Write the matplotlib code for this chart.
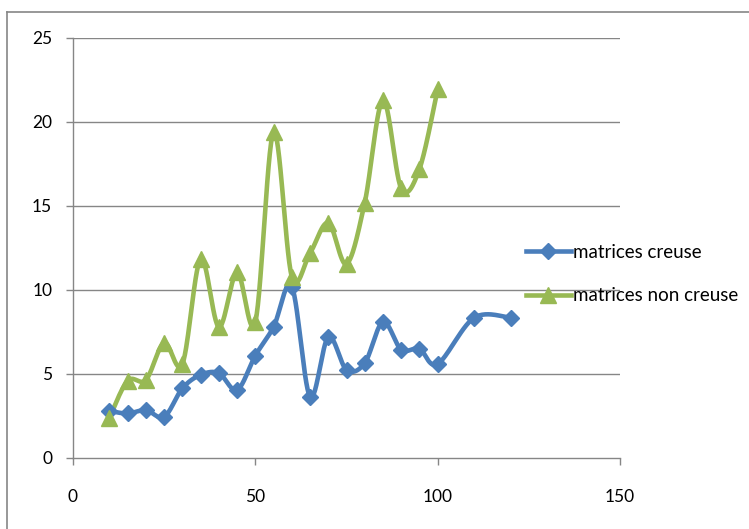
import numpy as np
import matplotlib
matplotlib.use("Agg")
import matplotlib.pyplot as plt
from matplotlib.lines import Line2D

# Matrix size vs. time for sparse and dense matrices
x_creuse = [10, 15, 20, 25, 30, 35, 40, 45, 50, 55, 60, 65, 70, 75, 80, 85, 90, 95, 100, 110, 120]
y_creuse = [2.8, 2.65, 2.85, 2.45, 4.15, 4.95, 5.05, 4.05, 6.1, 7.8, 10.2, 3.65, 7.2, 5.25, 5.65, 8.1, 6.45, 6.5, 5.6, 8.35, 8.35]

x_non_creuse = [10, 15, 20, 25, 30, 35, 40, 45, 50, 55, 60, 65, 70, 75, 80, 85, 90, 95, 100]
y_non_creuse = [2.4, 4.6, 4.65, 6.85, 5.6, 11.85, 7.8, 11.05, 8.1, 19.4, 10.8, 12.2, 14.0, 11.55, 15.2, 21.3, 16.05, 17.2, 21.95]

labels = ["matrices creuse", "matrices non creuse"]
x_ticks = [0, 50, 100, 150]
y_ticks = [0, 5, 10, 15, 20, 25]

BLUE = "#4A7EBB"
GREEN = "#98B954"
GRID = "#868686"


def smooth(xs, ys, n=30):
    """Cardinal (Catmull-Rom) Bezier smoothing through every point."""
    p = np.column_stack([xs, ys]).astype(float)
    m = len(p)
    out = [p[0]]
    t = np.linspace(0, 1, n)[1:, None]
    for i in range(m - 1):
        p0 = p[i - 1] if i > 0 else p[i]
        p1 = p[i]
        p2 = p[i + 1]
        p3 = p[i + 2] if i + 2 < m else p[i + 1]
        c1 = p1 + (p2 - p0) / 6.0
        c2 = p2 - (p3 - p1) / 6.0
        seg = ((1 - t) ** 3) * p1 + 3 * ((1 - t) ** 2) * t * c1 + 3 * (1 - t) * t ** 2 * c2 + t ** 3 * p2
        out.extend(seg)
    out = np.array(out)
    return out[:, 0], out[:, 1]


plt.rcParams["font.family"] = ["Lato", "DejaVu Sans"]

fig = plt.figure(figsize=(7.49, 5.29), dpi=100)
ax = fig.add_axes([73 / 749, 1 - 458 / 529, (620 - 73) / 749, (458 - 38) / 529])

ax.set_xlim(0, 150)
ax.set_ylim(0, 25)
ax.set_xticks(x_ticks)
ax.set_yticks(y_ticks)

for yv in y_ticks[1:]:
    ax.axhline(yv, color=GRID, lw=1.0, zorder=1)

LW = 3.3
sx, sy = smooth(x_creuse, y_creuse)
ax.plot(sx, sy, color=BLUE, lw=LW, zorder=3, solid_capstyle="round")
ax.plot(x_creuse, y_creuse, ls="none", marker="D", ms=8, color=BLUE, zorder=4)

gx, gy = smooth(x_non_creuse, y_non_creuse)
ax.plot(gx, gy, color=GREEN, lw=LW, zorder=3, solid_capstyle="round")
ax.plot(x_non_creuse, y_non_creuse, ls="none", marker="^", ms=11, color=GREEN, zorder=4)

for side in ("top", "right"):
    ax.spines[side].set_visible(False)
for side in ("left", "bottom"):
    ax.spines[side].set_color(GRID)
    ax.spines[side].set_linewidth(1.0)

ax.tick_params(axis="both", which="major", direction="out", length=5, width=1.0,
               color=GRID, labelsize=12.5, labelcolor="black")
ax.tick_params(axis="x", pad=17)
ax.tick_params(axis="y", pad=10)

handles = [
    Line2D([], [], color=BLUE, lw=LW, marker="D", ms=8),
    Line2D([], [], color=GREEN, lw=LW, marker="^", ms=11),
]
fig.legend(handles, labels, loc="center left", bbox_to_anchor=(518 / 749, 1 - 274 / 529),
           frameon=False, fontsize=13.5, handlelength=2.4, handletextpad=0.15,
           labelspacing=1.42, borderaxespad=0)

# Chart-area frame
fig.add_artist(Line2D([7 / 749, 7 / 749], [0, 1 - 12 / 529], transform=fig.transFigure,
                      color=GRID, lw=1.2))
fig.add_artist(Line2D([7 / 749, 1], [1 - 12 / 529, 1 - 12 / 529], transform=fig.transFigure,
                      color=GRID, lw=1.2))

fig.savefig("out.png", dpi=100)
